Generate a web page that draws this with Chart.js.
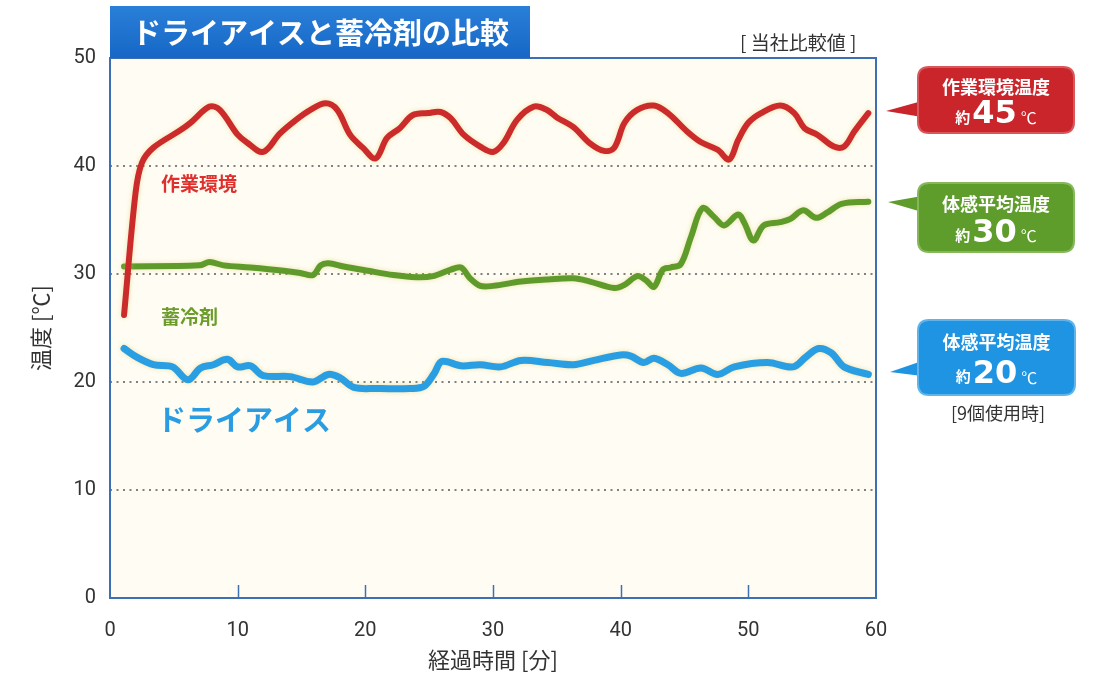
<!DOCTYPE html>
<html lang="ja">
<head>
<meta charset="utf-8">
<script src="https://cdn.jsdelivr.net/npm/chart.js@4.4.1/dist/chart.umd.min.js"></script>
<style>
  html, body { margin: 0; padding: 0; background: #fff; }
  #wrap { width: 1094px; height: 675px; position: relative; }
</style>
</head>
<body>
<div id="wrap"><canvas id="chart-temp"></canvas></div>
<script>
const JP = '"Noto Sans CJK JP", "Noto Sans", sans-serif';
const NUM = 'Roboto, "Noto Sans", sans-serif';

// 作業環境 (分, ℃)
const workTime = [1.1, 2.0, 2.5, 3.4, 5.5, 6.3, 7.8, 8.6, 10.0, 10.7, 12.0, 13.3, 14.6, 15.7, 16.9, 17.8, 18.8, 19.8, 20.8, 21.7, 22.7, 23.7, 24.9, 25.9, 26.7, 27.7, 29.0, 30.0, 30.8, 31.9, 33.2, 34.2, 35.0, 36.3, 37.6, 38.7, 39.5, 40.3, 41.3, 42.6, 43.7, 45.2, 46.3, 47.6, 48.5, 49.2, 50.0, 51.0, 52.5, 53.6, 54.4, 55.4, 56.7, 57.5, 58.3, 59.4];
const workTemp = [26.2, 37.5, 40.3, 41.7, 43.3, 44.0, 45.5, 45.2, 42.9, 42.2, 41.3, 43.0, 44.3, 45.2, 45.8, 45.2, 42.9, 41.7, 40.7, 42.6, 43.5, 44.7, 44.9, 45.0, 44.4, 42.9, 41.8, 41.3, 42.1, 44.3, 45.5, 45.2, 44.5, 43.6, 42.1, 41.4, 41.7, 44.0, 45.2, 45.6, 44.9, 43.2, 42.2, 41.5, 40.6, 42.4, 44.0, 44.9, 45.6, 44.9, 43.5, 42.9, 41.8, 41.8, 43.2, 44.9];

// 蓄冷剤
const packTime = [1.1, 7.0, 7.8, 8.9, 11.0, 13.6, 14.9, 15.9, 16.5, 17.1, 18.3, 20.2, 22.2, 24.0, 25.3, 26.7, 27.5, 28.2, 29.0, 30.0, 32.2, 34.3, 36.3, 37.6, 39.5, 40.3, 41.3, 42.0, 42.6, 43.3, 43.9, 44.7, 45.5, 46.4, 47.3, 48.1, 49.2, 49.7, 50.4, 51.2, 52.5, 53.3, 54.3, 55.3, 56.2, 57.3, 59.4];
const packTemp = [30.7, 30.8, 31.1, 30.8, 30.6, 30.3, 30.1, 29.9, 30.8, 31.0, 30.7, 30.3, 29.9, 29.7, 29.8, 30.4, 30.6, 29.6, 28.9, 28.9, 29.3, 29.5, 29.6, 29.3, 28.7, 29.0, 29.8, 29.4, 28.8, 30.4, 30.6, 30.9, 33.4, 36.1, 35.3, 34.5, 35.5, 34.7, 33.1, 34.5, 34.8, 35.1, 35.9, 35.2, 35.7, 36.5, 36.7];

// ドライアイス
const iceTime = [1.1, 2.1, 3.4, 4.9, 6.1, 7.1, 8.1, 9.2, 10.0, 11.0, 12.0, 14.1, 15.9, 17.1, 18.0, 19.1, 20.9, 23.5, 24.6, 25.4, 26.0, 27.5, 29.0, 30.6, 32.2, 34.3, 36.3, 37.9, 40.0, 40.8, 41.8, 42.6, 43.7, 44.7, 46.3, 47.6, 48.9, 51.5, 53.5, 54.5, 55.5, 56.5, 57.5, 59.4];
const iceTemp = [23.1, 22.3, 21.6, 21.4, 20.2, 21.3, 21.6, 22.1, 21.4, 21.5, 20.6, 20.5, 20.0, 20.7, 20.4, 19.5, 19.4, 19.4, 19.6, 20.8, 21.9, 21.5, 21.6, 21.4, 22.0, 21.8, 21.6, 22.0, 22.5, 22.4, 21.8, 22.2, 21.6, 20.8, 21.3, 20.7, 21.4, 21.8, 21.4, 22.3, 23.1, 22.7, 21.4, 20.7];

const xTickValues = [0, 10, 20, 30, 40, 50, 60];
const yTickValues = [0, 10, 20, 30, 40, 50];

function toPoints(xs, ys) {
    return xs.map((x, i) => ({ x: x, y: ys[i] }));
}

function roundRect(ctx, x, y, w, h, r) {
    ctx.beginPath();
    ctx.moveTo(x + r, y);
    ctx.lineTo(x + w - r, y);
    ctx.quadraticCurveTo(x + w, y, x + w, y + r);
    ctx.lineTo(x + w, y + h - r);
    ctx.quadraticCurveTo(x + w, y + h, x + w - r, y + h);
    ctx.lineTo(x + r, y + h);
    ctx.quadraticCurveTo(x, y + h, x, y + h - r);
    ctx.lineTo(x, y + r);
    ctx.quadraticCurveTo(x, y, x + r, y);
    ctx.closePath();
}

function drawCallout(ctx, c) {
    ctx.save();
    ctx.fillStyle = c.color;
    // 吹き出しのしっぽ
    ctx.beginPath();
    ctx.moveTo(c.tip[0], c.tip[1]);
    ctx.lineTo(c.x + 4, c.tailTop);
    ctx.lineTo(c.x + 4, c.tailBottom);
    ctx.closePath();
    ctx.fill();
    roundRect(ctx, c.x, c.y, c.w, c.h, 11);
    ctx.fill();
    ctx.strokeStyle = c.edge;
    ctx.lineWidth = 2;
    ctx.stroke();

    const cx = c.x + c.w / 2;
    ctx.fillStyle = '#fff';
    ctx.textBaseline = 'middle';
    ctx.textAlign = 'center';
    ctx.font = 'bold 18px ' + JP;
    ctx.fillText(c.line1, cx, c.y + c.h * 0.3);

    const ly = c.y + c.h * 0.73;
    ctx.textAlign = 'left';
    ctx.font = 'bold 15px ' + JP;
    const wA = ctx.measureText('約').width;
    ctx.font = 'bold 32px "DejaVu Sans", sans-serif';
    const wN = ctx.measureText(c.num).width;
    ctx.font = '16px ' + JP;
    const wC = ctx.measureText('℃').width;
    let x0 = cx - (wA + wN + wC + 6) / 2;
    ctx.font = 'bold 15px ' + JP;
    ctx.fillText('約', x0, ly + 2);
    x0 += wA + 2;
    ctx.font = 'bold 32px "DejaVu Sans", sans-serif';
    ctx.fillText(c.num, x0, ly);
    x0 += wN + 4;
    ctx.font = '16px ' + JP;
    ctx.fillText('℃', x0, ly + 3);
    ctx.restore();
}

const decorPlugin = {
    id: 'decor',
    beforeDraw(chart) {
        const { ctx, chartArea: a } = chart;
        ctx.save();
        ctx.fillStyle = '#fffdf3';
        ctx.fillRect(a.left, a.top, a.right - a.left, a.bottom - a.top);
        ctx.restore();
    },
    beforeDatasetsDraw(chart) {
        chart.ctx.save();
        chart.ctx.shadowColor = 'rgba(210, 190, 90, 0.45)';
        chart.ctx.shadowBlur = 5;
    },
    afterDatasetsDraw(chart) {
        chart.ctx.restore();
    },
    afterDraw(chart) {
        const { ctx, chartArea: a } = chart;
        const xs = chart.scales.x;
        ctx.save();

        // 枠線と目盛り
        ctx.strokeStyle = '#3d6fb5';
        ctx.lineWidth = 2;
        ctx.strokeRect(a.left, a.top, a.right - a.left, a.bottom - a.top);
        ctx.lineWidth = 1.5;
        xTickValues.slice(1, -1).forEach(v => {
            const px = Math.round(xs.getPixelForValue(v)) + 0.5;
            ctx.beginPath();
            ctx.moveTo(px, a.bottom);
            ctx.lineTo(px, a.bottom - 13);
            ctx.stroke();
        });

        // タイトル帯
        const grad = ctx.createLinearGradient(0, 6, 0, a.top);
        grad.addColorStop(0, '#2a7fd8');
        grad.addColorStop(1, '#1667c6');
        ctx.fillStyle = grad;
        ctx.fillRect(a.left, 6, 420, a.top - 6);
        ctx.fillStyle = '#fff';
        ctx.font = 'bold 29px ' + JP;
        ctx.textBaseline = 'middle';
        ctx.textAlign = 'left';
        ctx.fillText('ドライアイスと蓄冷剤の比較', a.left + 22, 33);

        ctx.fillStyle = '#333';
        ctx.font = '19px ' + JP;
        ctx.fillText('[ 当社比較値 ]', 740, 43);
        ctx.textAlign = 'center';
        ctx.font = '18px ' + JP;
        ctx.fillText('[9個使用時]', 998, 413);

        // 系列ラベル
        ctx.textAlign = 'left';
        ctx.font = 'bold 19px ' + JP;
        ctx.fillStyle = '#e0302e';
        ctx.fillText('作業環境', 161, 184);
        ctx.fillStyle = '#6c9d2c';
        ctx.fillText('蓄冷剤', 161, 317);
        ctx.font = 'bold 29px ' + JP;
        ctx.fillStyle = '#2a9de2';
        ctx.fillText('ドライアイス', 157, 420);
        ctx.restore();

        drawCallout(ctx, { x: 918, y: 67, w: 156, h: 66, color: '#c9252b', edge: '#d9575a',
            tip: [886, 111], tailTop: 101, tailBottom: 117, line1: '作業環境温度', num: '45' });
        drawCallout(ctx, { x: 918, y: 183, w: 156, h: 69, color: '#5e9c2b', edge: '#86b85a',
            tip: [888, 202], tailTop: 196, tailBottom: 212, line1: '体感平均温度', num: '30' });
        drawCallout(ctx, { x: 918, y: 320, w: 157, h: 75, color: '#1e94e2', edge: '#5fb4ec',
            tip: [890, 372], tailTop: 361, tailBottom: 376, line1: '体感平均温度', num: '20' });
    }
};

const lineDefaults = {
    fill: false,
    tension: 0.35,
    pointRadius: 0,
    borderJoinStyle: 'round',
    borderCapStyle: 'round'
};

new Chart(document.getElementById('chart-temp'), {
    type: 'line',
    data: {
        datasets: [
            Object.assign({ label: '作業環境', data: toPoints(workTime, workTemp), borderColor: '#cc2b2c', borderWidth: 6 }, lineDefaults),
            Object.assign({ label: '蓄冷剤', data: toPoints(packTime, packTemp), borderColor: '#5f9b2b', borderWidth: 6 }, lineDefaults),
            Object.assign({ label: 'ドライアイス', data: toPoints(iceTime, iceTemp), borderColor: '#2a9ee2', borderWidth: 7 }, lineDefaults)
        ]
    },
    options: {
        responsive: true,
        maintainAspectRatio: false,
        animation: false,
        layout: { padding: { left: 0, right: 218, top: 58, bottom: 0 } },
        plugins: {
            legend: { display: false },
            tooltip: { enabled: false }
        },
        scales: {
            x: {
                type: 'linear',
                min: 0,
                max: 60,
                afterBuildTicks: s => { s.ticks = xTickValues.map(v => ({ value: v })); },
                afterFit: s => { s.height = 77; },
                grid: { display: false, drawTicks: false },
                border: { display: false },
                ticks: { color: '#333', padding: 21, font: { family: NUM, size: 20 } },
                title: { display: true, text: '経過時間 [分]', color: '#333', padding: { top: 0, bottom: 2 }, font: { family: JP, size: 22 } }
            },
            y: {
                min: 0,
                max: 50,
                afterBuildTicks: s => { s.ticks = yTickValues.map(v => ({ value: v })); },
                afterFit: s => { s.width = 110; },
                grid: {
                    drawTicks: false,
                    lineWidth: 2,
                    color: c => (c.tick.value === 0 || c.tick.value === 50) ? 'rgba(0,0,0,0)' : '#808080'
                },
                border: { display: false, dash: [2, 4.5] },
                ticks: { color: '#333', padding: 14, font: { family: NUM, size: 20 } },
                title: { display: true, text: '温度 [℃]', color: '#333', padding: { top: 27, bottom: 0 }, font: { family: JP, size: 22 } }
            }
        }
    },
    plugins: [decorPlugin]
});
</script>
</body>
</html>
